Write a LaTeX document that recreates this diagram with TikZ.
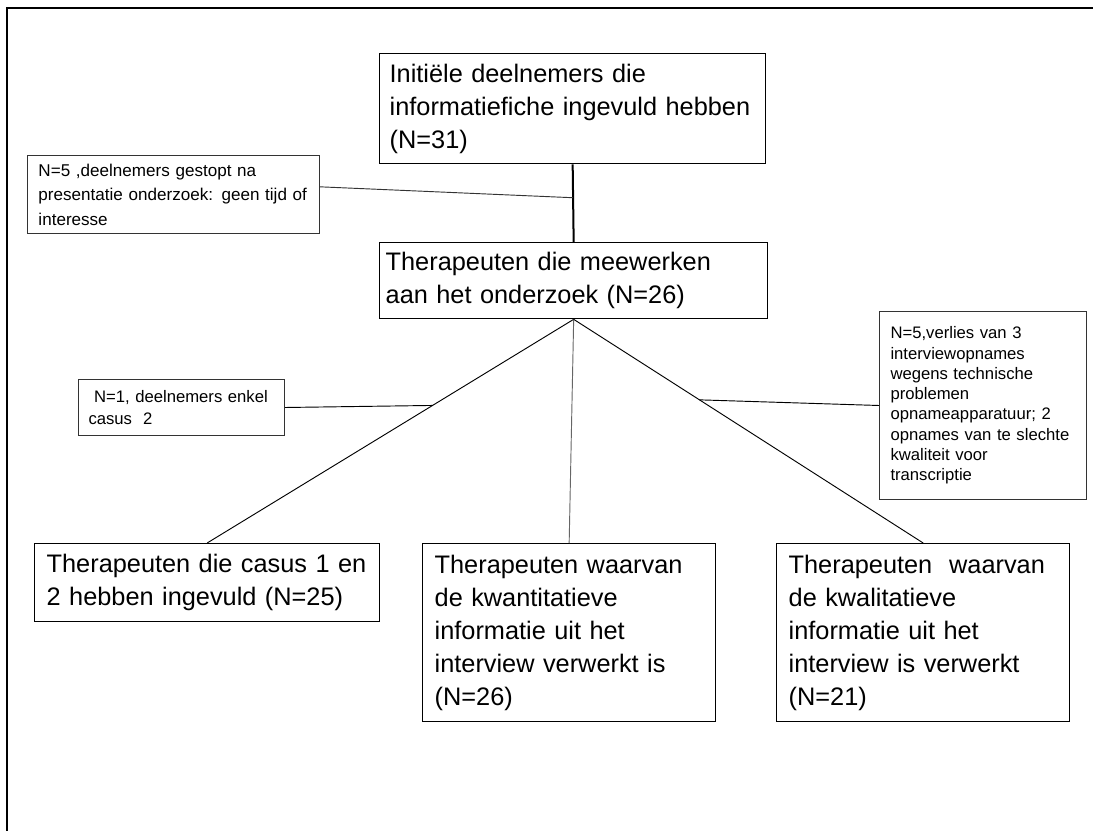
\documentclass[tikz,border=0pt]{standalone}
\usepackage{fontspec}
\setmainfont{Liberation Sans}
\usetikzlibrary{calc}

\begin{document}
\begin{tikzpicture}[x=0.75pt,y=-0.75pt,
    hoofdvak/.style={draw, line width=1pt, anchor=north west, align=left, inner ysep=0pt, font=\fontsize{19}{24.75}\selectfont},
    notitie/.style={draw=black!80, line width=0.75pt, anchor=north west, align=left, inner ysep=0pt},
    lijn/.style={line width=0.7pt}]
        \useasboundingbox (0,0) rectangle (1101,831);
        \draw[line width=2pt] (7,831) -- (7,8) -- (1093,8); %kader

        % hoofdvakken
        \node[hoofdvak, text width=274.5pt, inner xsep=7.5pt, minimum height=82.5pt] (init) at (379,53) {Initiële deelnemers die\\informatiefiche ingevuld hebben\\(N=31)};
        \node[hoofdvak, text width=282pt, inner xsep=4.5pt, minimum height=57pt] (mid) at (379,242) {Therapeuten die meewerken\\aan het onderzoek (N=26)};
        \node[hoofdvak, text width=240.75pt, inner xsep=9pt, minimum height=58.5pt] (casus) at (34,543) {Therapeuten die casus 1 en\\2 hebben ingevuld (N=25)};
        \node[hoofdvak, text width=201.75pt, inner xsep=9pt, minimum height=133.5pt] (kwant) at (422,543) {Therapeuten waarvan\\de kwantitatieve\\informatie uit het\\interview verwerkt is\\(N=26)};
        \node[hoofdvak, text width=201.75pt, inner xsep=9pt, minimum height=133.5pt] (kwal) at (776,543) {Therapeuten~ waarvan\\de kwalitatieve\\informatie uit het\\interview is verwerkt\\(N=21)};

        % notities
        \node[notitie, text width=202.5pt, inner xsep=8.25pt, minimum height=58.5pt, font=\fontsize{12.8}{18.4}\selectfont] (stop) at (27,155) {N=5 ,deelnemers gestopt na\\presentatie onderzoek: geen tijd of\\interesse};
        \node[notitie, text width=139.5pt, inner xsep=7.5pt, minimum height=42pt, font=\fontsize{12.5}{16.5}\selectfont] (enkel) at (78,379) {\ N=1, deelnemers enkel\\casus~ 2};
        \node[notitie, text width=138.75pt, inner xsep=8.25pt, minimum height=141pt, font=\fontsize{12.5}{15.2}\selectfont] (verlies) at (879,311) {N=5,verlies van 3\\interviewopnames\\wegens technische\\problemen\\opnameapparatuur; 2\\opnames van te slechte\\kwaliteit voor\\transcriptie};

        % verbindingen
        \draw[line width=1.5pt] (init.south) -- (mid.north);
        \draw[lijn] (mid.south) -- (casus.north);
        \draw[lijn, black!60] (mid.south) -- (kwant.north);
        \draw[lijn] (mid.south) -- (kwal.north);

        \coordinate (j1) at ($(init.south)!0.43!(mid.north)$);
        \coordinate (j2) at ($(mid.south)!0.385!(casus.north)$);
        \coordinate (j3) at ($(mid.south)!0.36!(kwal.north)$);
        \draw[lijn, black!80] (stop.3) -- (j1);
        \draw[lijn] (enkel.east) -- (j2);
        \draw[lijn] (verlies.west) -- (j3);
\end{tikzpicture}
\end{document}
